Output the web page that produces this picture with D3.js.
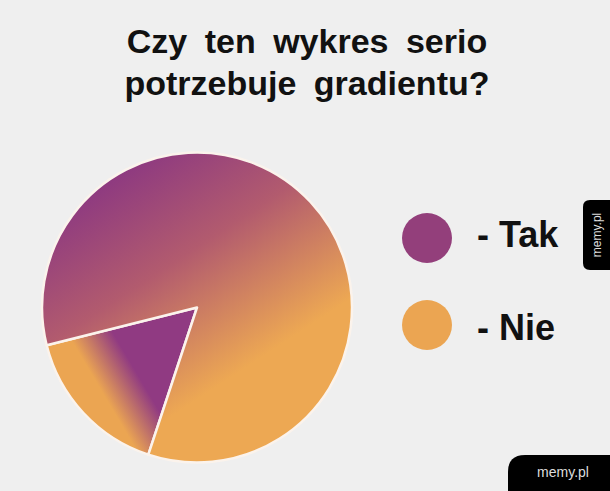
<!DOCTYPE html>
<html>
<head>
<meta charset="utf-8">
<script src="https://cdn.jsdelivr.net/npm/d3@7"></script>
<style>
  body { margin: 0; background: #efefef; }
  svg { display: block; }
  text { font-family: "Liberation Sans", Arial, sans-serif; }
</style>
</head>
<body>
<svg id="chart" width="610" height="491"></svg>
<script>
const titleLines = ["Czy ten wykres serio", "potrzebuje gradientu?"];
const categories = ["Tak", "Nie"];
const values = [16, 84];
const legendColors = ["#933f7b", "#eba552"];

const width = 610, height = 491;
const cx = 197, cy = 307.5, radius = 155;

const svg = d3.select("#chart");

svg.append("rect")
    .attr("width", width)
    .attr("height", height)
    .attr("fill", "#efefef");

// title
svg.append("g")
    .selectAll("text")
    .data(titleLines)
    .enter()
    .append("text")
    .attr("x", 307)
    .attr("y", (d, i) => 53 + i * 42)
    .attr("text-anchor", "middle")
    .attr("font-size", 34)
    .attr("font-weight", "bold")
    .attr("word-spacing", 8)
    .attr("fill", "#111")
    .text(d => d);

// gradients - the whole point of the meme
const defs = svg.append("defs");

const gBig = defs.append("linearGradient")
    .attr("id", "grad-nie")
    .attr("gradientUnits", "userSpaceOnUse")
    .attr("x1", -0.6 * radius).attr("y1", -0.8 * radius)
    .attr("x2", 0.22 * radius).attr("y2", 0.45 * radius);
gBig.append("stop").attr("offset", "0%").attr("stop-color", "#8e3a80");
gBig.append("stop").attr("offset", "45%").attr("stop-color", "#b25b6e");
gBig.append("stop").attr("offset", "100%").attr("stop-color", "#eda853");

const gSmall = defs.append("linearGradient")
    .attr("id", "grad-tak")
    .attr("gradientUnits", "userSpaceOnUse")
    .attr("x1", -0.39 * radius).attr("y1", 0.42 * radius)
    .attr("x2", -0.61 * radius).attr("y2", 0.55 * radius);
gSmall.append("stop").attr("offset", "0%").attr("stop-color", "#903a82");
gSmall.append("stop").attr("offset", "100%").attr("stop-color", "#eba552");

const pie = d3.pie()
    .sort(null)
    .startAngle(198.3 * Math.PI / 180)
    .endAngle((198.3 + 360) * Math.PI / 180);

const arc = d3.arc()
    .innerRadius(0)
    .outerRadius(radius);

const pieG = svg.append("g")
    .attr("transform", `translate(${cx},${cy})`);

pieG.selectAll("path")
    .data(pie(values))
    .enter()
    .append("path")
    .attr("d", arc)
    .attr("fill", (d, i) => i === 0 ? "url(#grad-tak)" : "url(#grad-nie)")
    .attr("stroke", "#fbf3ec")
    .attr("stroke-width", 2.5)
    .attr("stroke-linejoin", "round");

// legend
const legend = svg.append("g")
    .selectAll("g")
    .data(categories)
    .enter()
    .append("g")
    .attr("transform", (d, i) => `translate(427,${238 + i * 87})`);

legend.append("circle")
    .attr("r", 25)
    .attr("fill", (d, i) => legendColors[i]);

legend.append("text")
    .attr("x", 50)
    .attr("y", (d, i) => i === 0 ? 9 : 15)
    .attr("font-size", 36)
    .attr("font-weight", "bold")
    .attr("fill", "#111")
    .text(d => "- " + d);

// memy.pl watermarks
svg.append("path")
    .attr("d", "M610,200 H590 Q583,200 583,207 V263 Q583,270 590,270 H610 Z")
    .attr("fill", "#000");
svg.append("text")
    .attr("transform", "translate(601,235) rotate(-90)")
    .attr("text-anchor", "middle")
    .attr("font-size", 12)
    .attr("font-family", "DejaVu Sans, sans-serif")
    .attr("fill", "#ddd")
    .text("memy.pl");

svg.append("path")
    .attr("d", "M508,491 V472 Q508,455 525,455 H610 V491 Z")
    .attr("fill", "#000");
svg.append("text")
    .attr("x", 563)
    .attr("y", 477)
    .attr("text-anchor", "middle")
    .attr("font-size", 14)
    .attr("font-family", "DejaVu Sans, sans-serif")
    .attr("fill", "#ddd")
    .text("memy.pl");
</script>
</body>
</html>
